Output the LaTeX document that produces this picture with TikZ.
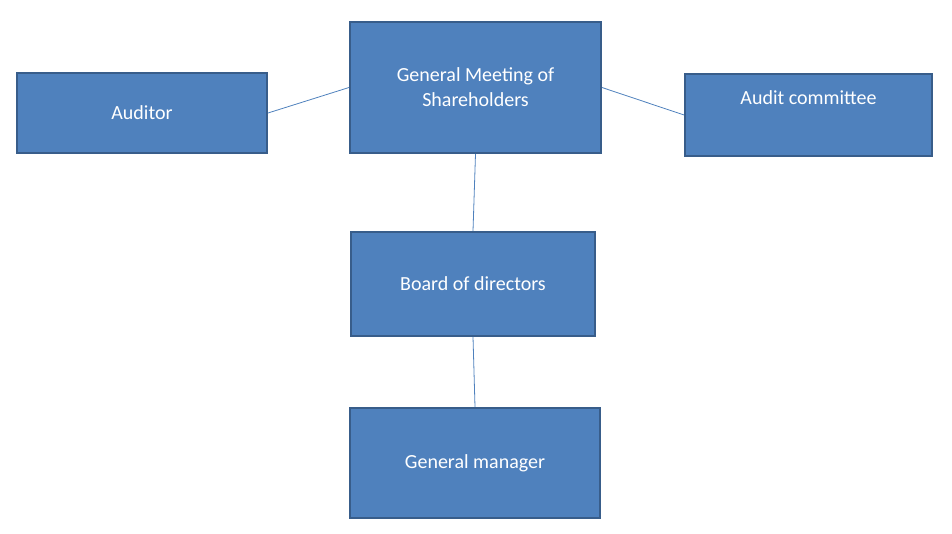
\documentclass[tikz,border=0pt]{standalone}
\usepackage{fontspec}
\setmainfont{Carlito}
\usetikzlibrary{positioning}
\definecolor{boxfill}{HTML}{4F81BD}
\definecolor{boxline}{HTML}{385D8A}
\tikzset{%
	orgbox/.style={draw=boxline,line width=2pt,fill=boxfill,text=white,
		font=\fontsize{20}{25}\selectfont,align=center,inner sep=0pt},
	link/.style={draw=boxfill,line width=0.8pt}%
}
\begin{document}
\begin{tikzpicture}[x=1pt,y=-1pt]
	\useasboundingbox (0,0) rectangle (952,534);
	% boxes
	\node[orgbox,minimum width=250pt,minimum height=80pt] (aud) at (142,113) {Auditor};
	\node[orgbox,minimum width=251pt,minimum height=131pt] (gms) at (475.5,87.5)
		{General Meeting of\\Shareholders};
	\node[orgbox,minimum width=247pt,minimum height=82pt,
		label={[text=white,font=\fontsize{20}{25}\selectfont,yshift=17pt]center:Audit committee}]
		(ac) at (808.5,115) {};
	\node[orgbox,minimum width=244pt,minimum height=104pt] (bod) at (473,284) {Board of directors};
	\node[orgbox,minimum width=250pt,minimum height=110pt] (gm) at (475,463) {General manager};
	% links
	\draw[link] (aud.east) -- (gms.west);
	\draw[link] (gms.east) -- (ac.west);
	\draw[link] (gms.south) -- (bod.north);
	\draw[link] (bod.south) -- (gm.north);
\end{tikzpicture}
\end{document}
